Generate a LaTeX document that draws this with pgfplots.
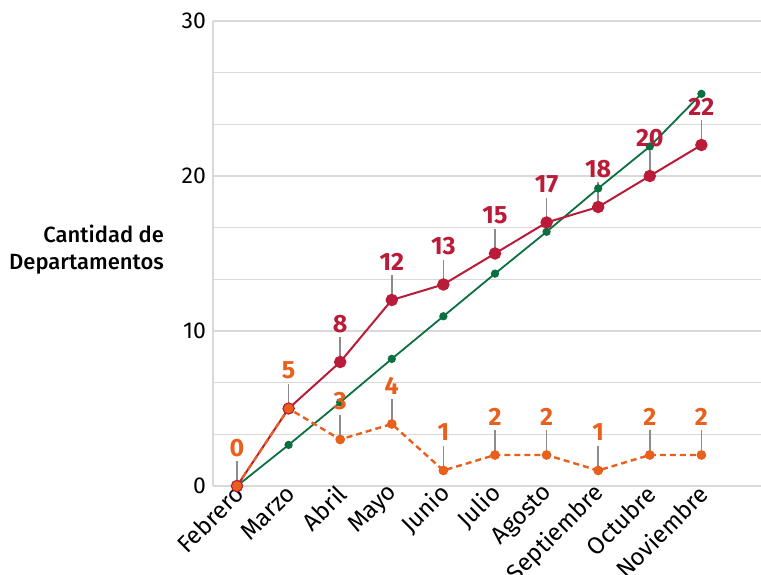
\documentclass[border=0pt]{standalone}
\usepackage{fontspec}
\setmainfont{Fira Sans}
\newfontfamily\medfont{Fira Sans Medium}
\usepackage{pgfplots}
\pgfplotsset{compat=1.18}

\definecolor{rojo}{HTML}{BA1B38}
\definecolor{verde}{HTML}{0B7040}
\definecolor{naranja}{HTML}{E8601C}
\definecolor{guia}{HTML}{8C8C8C}
\definecolor{rejilla}{HTML}{D9D9D9}

\begin{document}
\begin{tikzpicture}
\begin{axis}[
    name=ax,
    scale only axis,
    width=274pt, height=232.5pt,
    xmin=-0.465, xmax=10.155,
    ymin=0, ymax=30,
    clip=false,
    axis x line*=bottom, axis y line*=left,
    axis line style={draw=rejilla, line width=0.7pt, -},
    ytick={0,10,20,30},
    minor y tick num=2,
    ymajorgrids, yminorgrids,
    major grid style={draw=rejilla, line width=0.7pt},
    minor grid style={draw=rejilla, line width=0.7pt},
    tick style={draw=none},
    xtick={0,...,9},
    xticklabels={Febrero,Marzo,Abril,Mayo,Junio,Julio,Agosto,Septiembre,Octubre,Noviembre},
    xticklabel style={rotate=45, anchor=east, xshift=3pt, yshift=-2pt,
        font=\fontsize{12}{14}\selectfont},
    yticklabel style={font=\fontsize{11.5}{13}\selectfont},
    /pgf/number format/assume math mode=true,
    ylabel={Cantidad de\\Departamentos},
    ylabel style={rotate=-90, align=right, anchor=east, at={(rel axis cs:0,0.5)},
        xshift=-21pt, yshift=1.75pt, font=\fontsize{11}{13.5}\selectfont\medfont},
]
% lineas guia de las etiquetas
\addplot[draw=none, mark=none, error bars/.cd, y dir=plus, y fixed=1.6,
    error mark=none, error bar style={draw=guia, line width=0.75pt, solid}]
    coordinates {(2,8) (3,12) (4,13) (5,15) (6,17) (7,18) (8,20) (9,22)};
\addplot[draw=none, mark=none, error bars/.cd, y dir=plus, y fixed=1.6,
    error mark=none, error bar style={draw=guia, line width=0.75pt, solid}]
    coordinates {(0,0) (1,5) (2,3) (3,4) (4,1) (5,2) (6,2) (7,1) (8,2) (9,2)};

% tendencia
\addplot[verde, line width=0.9pt, mark=*, mark size=1.6pt] coordinates {
    (0,0) (1,2.65) (2,5.4) (3,8.2) (4,10.95) (5,13.7) (6,16.4) (7,19.2) (8,21.9) (9,25.3)
};
% acumulado
\addplot[rojo, line width=1pt, mark=*, mark size=2.6pt] coordinates {
    (0,0) (1,5) (2,8) (3,12) (4,13) (5,15) (6,17) (7,18) (8,20) (9,22)
};
% mensual
\addplot[naranja, line width=1.2pt, dash pattern=on 3pt off 2pt, mark=*, mark size=1.8pt,
    mark options={solid}] coordinates {
    (0,0) (1,5) (2,3) (3,4) (4,1) (5,2) (6,2) (7,1) (8,2) (9,2)
};

% etiquetas
\addplot[draw=none, mark=none, nodes near coords,
    every node near coord/.append style={text=rojo, anchor=center, yshift=19pt,
        font=\fontsize{12.5}{14}\selectfont\bfseries}]
    coordinates {(2,8) (3,12) (4,13) (5,15) (6,17) (7,18) (8,20) (9,22)};
\addplot[draw=none, mark=none, nodes near coords,
    every node near coord/.append style={text=naranja, anchor=center, yshift=19pt,
        font=\fontsize{12.5}{14}\selectfont\bfseries}]
    coordinates {(0,0) (1,5) (2,3) (3,4) (4,1) (5,2) (6,2) (7,1) (8,2) (9,2)};
\end{axis}
\pgfresetboundingbox
\path[use as bounding box] ([shift={(-106.5pt,-44.5pt)}]ax.south west)
    rectangle ([shift={(0pt,10.5pt)}]ax.north east);
\end{tikzpicture}
\end{document}
